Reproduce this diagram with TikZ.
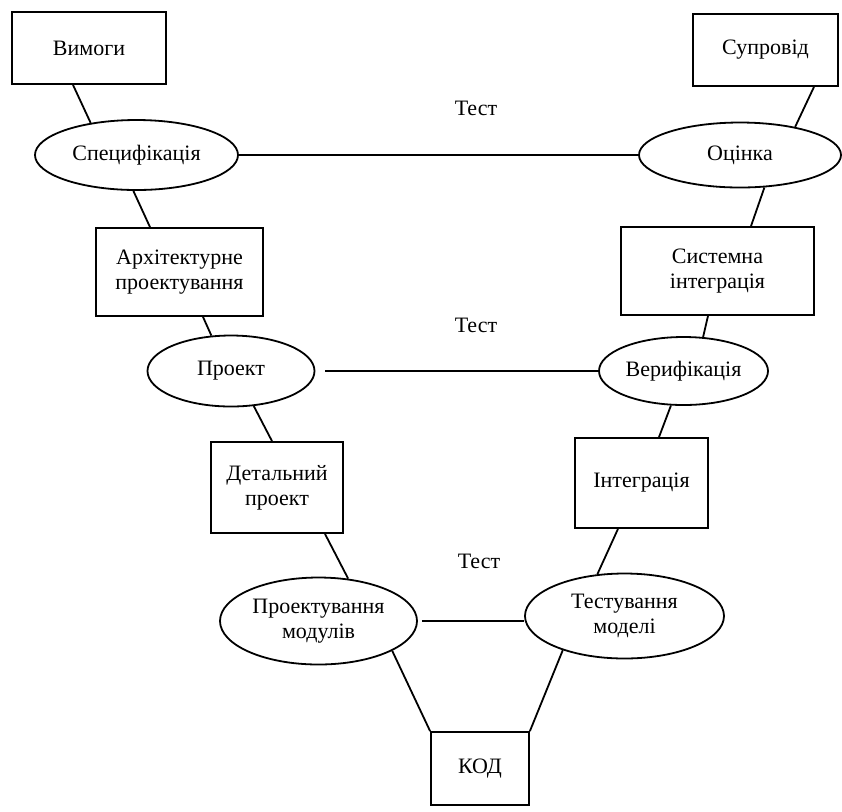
\documentclass[tikz,border=0pt]{standalone}
\usepackage{fontspec}
\setmainfont{Liberation Serif}
\usetikzlibrary{shapes.geometric}

\begin{document}
\begin{tikzpicture}[
  x=0.5pt, y=-0.5pt,
  every node/.style={font=\fontsize{11}{12.5}\selectfont,align=center,inner sep=0pt},
  blok/.style={draw,rectangle,line width=0.9pt},
  etap/.style={draw,ellipse,line width=0.9pt},
  zv/.style={line width=0.9pt}
]
  \useasboundingbox (0,0) rectangle (842,811);
  % left branch
  \node[blok,minimum width=77pt,minimum height=36pt] (vymogy) at (89,48) {Вимоги};
  \node[etap,minimum width=101.5pt,minimum height=35pt] (spec) at (136.5,155) {Специфікація};
  \node[blok,minimum width=83.5pt,minimum height=44pt] (arch) at (179.5,272) {Архітектурне\\проектування};
  \node[etap,minimum width=83.5pt,minimum height=35.5pt] (proekt) at (231,371) {Проект};
  \node[blok,minimum width=66pt,minimum height=45.5pt] (detal) at (277,487.5) {Детальний\\проект};
  \node[etap,minimum width=98.5pt,minimum height=43.5pt] (promod) at (318.5,621) {Проектування\\модулів};
  % bottom
  \node[blok,minimum width=49pt,minimum height=36.5pt] (kod) at (480,768.5) {КОД};
  % right branch
  \node[blok,minimum width=72.5pt,minimum height=36pt] (suprovid) at (765.5,50) {Супровід};
  \node[etap,minimum width=101pt,minimum height=32.5pt] (otsinka) at (740,155) {Оцінка};
  \node[blok,minimum width=96.5pt,minimum height=44pt] (sysint) at (717.5,271) {Системна\\інтеграція};
  \node[etap,minimum width=84.5pt,minimum height=34pt] (verif) at (683.5,371) {Верифікація};
  \node[blok,minimum width=66.5pt,minimum height=45pt] (integr) at (641.5,483) {Інтеграція};
  \node[etap,minimum width=99.5pt,minimum height=42.5pt] (testmod) at (624.5,616) {Тестування\\моделі};
  % test labels
  \node (test1) at (476,108) {Тест};
  \node (test2) at (476,325) {Тест};
  \node (test3) at (479,561) {Тест};

  % down the left side
  \draw[zv] ([xshift=-8pt]vymogy.south) -- (spec.145);
  \draw[zv] (spec.-95) -- ([xshift=-14.75pt]arch.north);
  \draw[zv] ([xshift=11.75pt]arch.south) -- (proekt.119);
  \draw[zv] (proekt.-57) -- ([xshift=-2.5pt]detal.north);
  \draw[zv] ([xshift=24pt]detal.south) -- (promod.55);
  \draw[zv] (promod.-22) -- (kod.north west);
  % up the right side
  \draw[zv] (testmod.-151) -- (kod.north east);
  \draw[zv] ([xshift=-11.75pt]integr.south) -- (testmod.123);
  \draw[zv] (verif.-110) -- ([xshift=8.75pt]integr.north);
  \draw[zv] ([xshift=-4.75pt]sysint.south) -- (verif.60);
  \draw[zv] (otsinka.-53) -- ([xshift=16.75pt]sysint.north);
  \draw[zv] ([xshift=24.25pt]suprovid.south) -- (otsinka.27);
  % test links
  \draw[zv] (spec) -- (otsinka);
  \draw[zv,shorten <=5pt] (proekt) -- (verif);
  \draw[zv,shorten <=2pt] (promod.east) -- (promod.east -| testmod.west);
\end{tikzpicture}
\end{document}
